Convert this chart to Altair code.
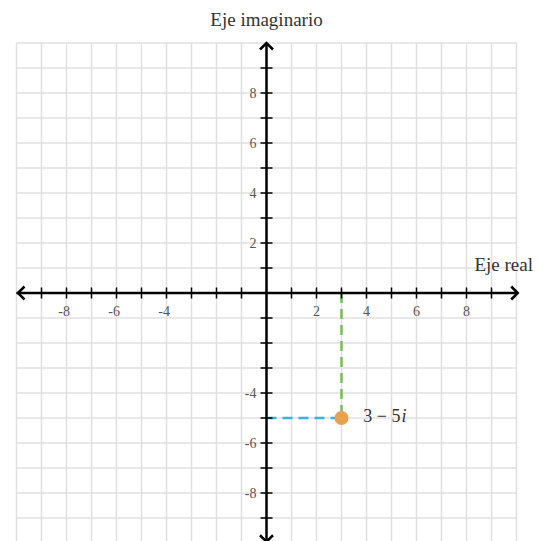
import altair as alt
import pandas as pd

# Complex plane: real axis, imaginary axis and the number 3 - 5i
grid_values = list(range(-10, 11))
tick_values = [v for v in range(-9, 10) if v != 0]
x_label_values = [-8, -6, -4, 2, 4, 6, 8]
y_label_values = [8, 6, 4, 2, -4, -6, -8]
axis_min, axis_max = -10, 10
y_visible_min = -9.9

point_re = [3]
point_im = [-5]
point_text = ["3 − 5"]
point_unit = ["i"]

title_imag = "Eje imaginario"
title_real = "Eje real"

ORANGE = "#E9A04F"
GREEN = "#77BD5B"
CYAN = "#33B4D8"
SERIF = "Liberation Serif, DejaVu Serif, serif"

xs = alt.Scale(domain=[axis_min, axis_max], nice=False, zero=False)
ys = alt.Scale(domain=[y_visible_min, axis_max], nice=False, zero=False)

# background grid, one line per unit
grid_df = pd.DataFrame({"v": grid_values,
                        "lo": [axis_min] * len(grid_values),
                        "hi": [axis_max] * len(grid_values)})
grid_v = alt.Chart(grid_df).mark_rule(color="#e0e0e0", strokeWidth=1.5).encode(
    x=alt.X("v:Q", scale=xs, axis=None),
    y=alt.Y("lo:Q", scale=ys, axis=None), y2="hi:Q",
)
grid_h = alt.Chart(grid_df).mark_rule(color="#e0e0e0", strokeWidth=1.5).encode(
    y=alt.Y("v:Q", scale=ys, axis=None),
    x=alt.X("lo:Q", scale=xs, axis=None), x2="hi:Q",
)

# dashed projections of the point onto both axes
proj_df = pd.DataFrame({
    "x": [point_re[0], 0],
    "y": [0, point_im[0]],
    "x2": [point_re[0], point_re[0]],
    "y2": [point_im[0], point_im[0]],
    "c": [GREEN, CYAN],
})
proj = alt.Chart(proj_df).mark_rule(strokeWidth=2.5, strokeDash=[10, 6]).encode(
    x=alt.X("x:Q", scale=xs, axis=None), x2="x2:Q",
    y=alt.Y("y:Q", scale=ys, axis=None), y2="y2:Q",
    color=alt.Color("c:N", scale=None),
)

# the two axes
axes_df = pd.DataFrame({
    "x": [axis_min, 0], "x2": [axis_max, 0],
    "y": [0, axis_min], "y2": [0, axis_max],
})
axes = alt.Chart(axes_df).mark_rule(strokeWidth=2.5, color="black").encode(
    x=alt.X("x:Q", scale=xs, axis=None), x2="x2:Q",
    y=alt.Y("y:Q", scale=ys, axis=None), y2="y2:Q",
)

# arrowheads at both ends of each axis
arrow_df = pd.DataFrame({
    "x": [axis_max + 0.05, axis_min + 0.06, 0, 0],
    "y": [0, 0, axis_max, axis_min + 0.05],
    "angle": [0, 180, 270, 90],
})
arrows = alt.Chart(arrow_df).mark_point(
    shape="M -1 -1 L 0 0 L -1 1", filled=False, size=169,
    stroke="black", strokeWidth=2.5, opacity=1,
).encode(
    x=alt.X("x:Q", scale=xs, axis=None),
    y=alt.Y("y:Q", scale=ys, axis=None),
    angle=alt.Angle("angle:Q", scale=None),
)

# unit ticks crossing the axes
tick_df = pd.DataFrame({"v": tick_values, "zero": [0] * len(tick_values)})
x_ticks = alt.Chart(tick_df).mark_tick(orient="vertical", size=11, thickness=1.5,
                                       color="black", opacity=1).encode(
    x=alt.X("v:Q", scale=xs, axis=None),
    y=alt.Y("zero:Q", scale=ys, axis=None),
)
y_ticks = alt.Chart(tick_df).mark_tick(orient="horizontal", size=12, thickness=1.5,
                                       color="black", opacity=1).encode(
    x=alt.X("zero:Q", scale=xs, axis=None),
    y=alt.Y("v:Q", scale=ys, axis=None),
)

# tick labels
xl_df = pd.DataFrame({"v": x_label_values, "zero": [0] * len(x_label_values),
                      "t": [str(v) for v in x_label_values]})
x_labels = alt.Chart(xl_df).mark_text(font=SERIF, fontSize=14, color="#555555",
                                      align="right", baseline="middle",
                                      dx=3.5, dy=19).encode(
    x=alt.X("v:Q", scale=xs, axis=None),
    y=alt.Y("zero:Q", scale=ys, axis=None),
    text="t:N",
)
yl_df = pd.DataFrame({"v": y_label_values, "zero": [0] * len(y_label_values),
                      "t": [str(v) for v in y_label_values]})
y_labels = alt.Chart(yl_df).mark_text(font=SERIF, fontSize=14, color="#555555",
                                      align="right", baseline="middle",
                                      dx=-10, dy=0.5).encode(
    x=alt.X("zero:Q", scale=xs, axis=None),
    y=alt.Y("v:Q", scale=ys, axis=None),
    text="t:N",
)

# axis titles
titles_df = pd.DataFrame({"x": [0], "y": [axis_max], "t": [title_imag]})
t_imag = alt.Chart(titles_df).mark_text(font=SERIF, fontSize=19, color="#333333",
                                        align="center", baseline="middle", dy=-23).encode(
    x=alt.X("x:Q", scale=xs, axis=None),
    y=alt.Y("y:Q", scale=ys, axis=None),
    text="t:N",
)
treal_df = pd.DataFrame({"x": [axis_max], "y": [0], "t": [title_real]})
t_real = alt.Chart(treal_df).mark_text(font=SERIF, fontSize=19, color="#333333",
                                       align="right", baseline="middle",
                                       dx=16.5, dy=-28).encode(
    x=alt.X("x:Q", scale=xs, axis=None),
    y=alt.Y("y:Q", scale=ys, axis=None),
    text="t:N",
)

# the complex number itself and its label
pt_df = pd.DataFrame({"re": point_re, "im": point_im, "t": point_text, "u": point_unit})
point = alt.Chart(pt_df).mark_circle(size=196, color=ORANGE, opacity=1).encode(
    x=alt.X("re:Q", scale=xs, axis=None),
    y=alt.Y("im:Q", scale=ys, axis=None),
)
pt_label = alt.Chart(pt_df).mark_text(font=SERIF, fontSize=18, color="#333333",
                                      align="right", baseline="middle",
                                      dx=59, dy=-1).encode(
    x=alt.X("re:Q", scale=xs, axis=None),
    y=alt.Y("im:Q", scale=ys, axis=None),
    text="t:N",
)
pt_unit = alt.Chart(pt_df).mark_text(font=SERIF, fontSize=18, fontStyle="italic",
                                     color="#333333", align="left", baseline="middle",
                                     dx=60, dy=-1).encode(
    x=alt.X("re:Q", scale=xs, axis=None),
    y=alt.Y("im:Q", scale=ys, axis=None),
    text="u:N",
)

chart = alt.layer(
    grid_v, grid_h, proj, axes, x_ticks, y_ticks, arrows,
    x_labels, y_labels, t_imag, t_real, point, pt_label, pt_unit,
).properties(
    width=500,
    height=(axis_max - y_visible_min) * 25,
    autosize=alt.AutoSizeParams(type="none"),
    padding={"left": 16.5, "top": 43, "right": 31.5, "bottom": 0},
    background="white",
).configure_view(stroke=None)

chart.save("out.html", embed_options={"renderer": "svg", "actions": False})
